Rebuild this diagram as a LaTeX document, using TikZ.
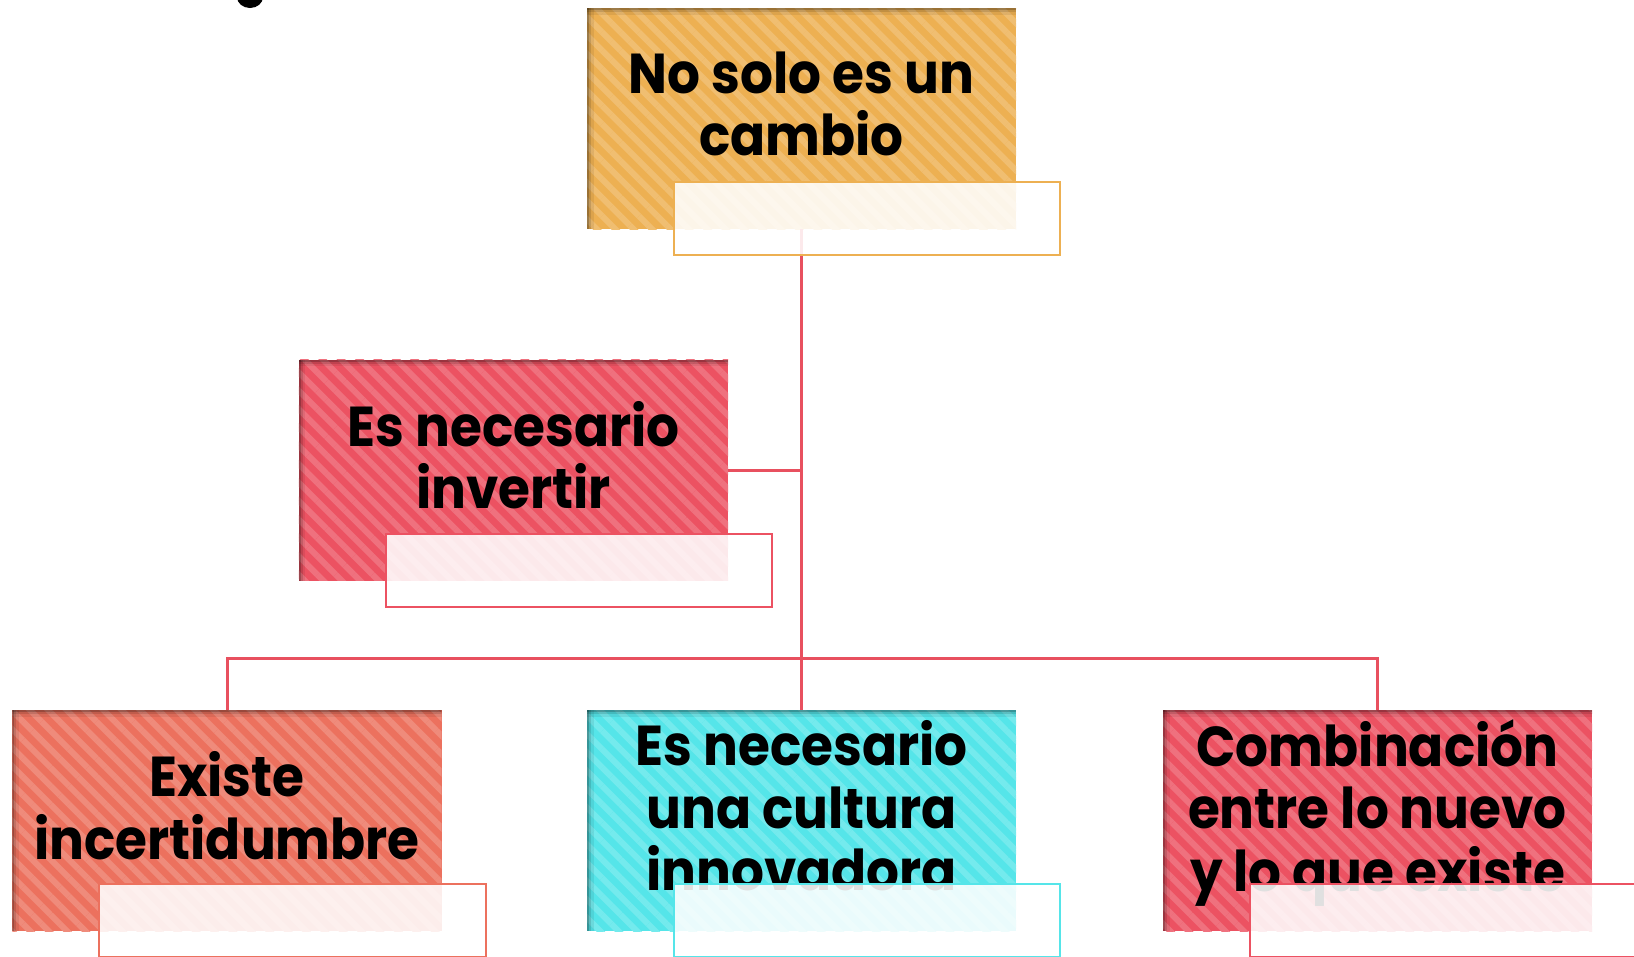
\documentclass[tikz,border=0pt]{standalone}
\usepackage{fontspec}
\setmainfont{Poppins}[FakeStretch=0.92]
\usetikzlibrary{positioning,patterns.meta}
\definecolor{gold}{HTML}{EDB052}
\definecolor{rose}{HTML}{EC5262}
\definecolor{salmon}{HTML}{EC715E}
\definecolor{aqua}{HTML}{55E5E9}
\definecolor{linkred}{HTML}{E8505F}
\tikzset{
  concept/.style={rectangle, fill=#1, minimum width=85.8mm, minimum height=44.2mm,
    inner sep=0pt, outer sep=0pt, align=center, text depth=6mm,
    font=\fontsize{32}{35.5}\selectfont\bfseries,
    path picture={
      \fill[pattern={Lines[angle=-45,distance=2.6mm,line width=1.2mm]}, pattern color=#1!82!white]
        (path picture bounding box.south west) rectangle (path picture bounding box.north east);
      \foreach \d/\o in {0.4mm/0.2, 0.8mm/0.12, 1.3mm/0.07}
        {\fill[black, fill opacity=\o] (path picture bounding box.north west) rectangle ([yshift=-\d]path picture bounding box.north east);
         \fill[black, fill opacity=\o] (path picture bounding box.north west) rectangle ([xshift=\d]path picture bounding box.south west);};
    }},
  tag/.style={rectangle, draw=#1, line width=0.4mm, fill=white, fill opacity=0.88,
    minimum width=77.2mm, minimum height=14.6mm, inner sep=0pt, anchor=north west},
  link/.style={draw=linkred, line width=0.6mm}
}
\begin{document}
\begin{tikzpicture}[x=0.2mm, y=-0.2mm]
  \useasboundingbox (0,0) rectangle (1634,956);
  \fill (250,-3) ellipse [x radius=2.6mm, y radius=2.2mm];
  % boxes
  \node[concept=gold] (change) at (801.5,118.5) {No solo es un\\cambio};
  \node[concept=rose] (invest) at (513.5,470) {Es necesario\\invertir};
  \node[concept=salmon] (doubt) at (227,820.5) {Existe\\incertidumbre};
  \node[concept=aqua] (culture) at (801.5,820.5) {Es necesario\\una cultura\\innovadora};
  \node[concept=rose] (mix) at (1377.5,820.5) {Combinación\\entre lo nuevo\\y lo que existe};
  % connectors
  \coordinate (bus) at (801.5,658);
  \draw[link] (change.south) -- (culture.north);
  \draw[link] (invest.east) -- (invest.east -| change.south);
  \draw[link] (doubt.north) |- (bus) -| (mix.north);
  % tags
  \node[tag=gold] (change-tag) at ([xshift=17.2mm, yshift=9.6mm]change.south west) {};
  \node[tag=rose] (invest-tag) at ([xshift=17.2mm, yshift=9.6mm]invest.south west) {};
  \node[tag=salmon] (doubt-tag) at ([xshift=17.2mm, yshift=9.6mm]doubt.south west) {};
  \node[tag=aqua] (culture-tag) at ([xshift=17.2mm, yshift=9.6mm]culture.south west) {};
  \node[tag=rose] (mix-tag) at ([xshift=17.2mm, yshift=9.6mm]mix.south west) {};
\end{tikzpicture}
\end{document}
